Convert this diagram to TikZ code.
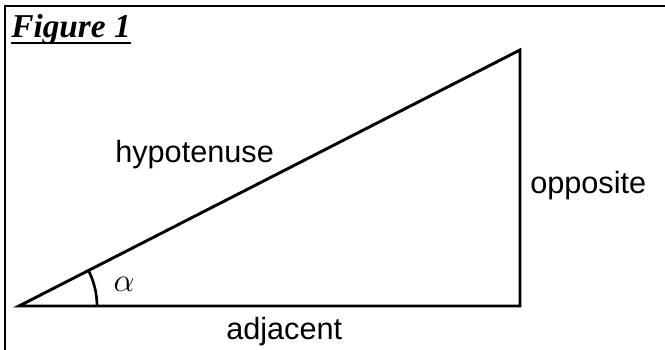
\documentclass[tikz,border=0pt]{standalone}
\usepackage{fontspec}
\setmainfont{Liberation Sans}
\newfontfamily\titlefont{Liberation Serif}
\usetikzlibrary{calc, positioning}
\tikzset{
  side label/.style={font=\fontsize{23}{27}\selectfont, inner sep=0pt, anchor=base west},
  edge line/.style={line width=2.2pt, line join=miter},
}

\begin{document}
\begin{tikzpicture}[x=0.75pt, y=0.75pt]
  \useasboundingbox (0,0) rectangle (665,350);
  % frame, cut off at the right and at the bottom
  \coordinate (frameBL) at (5,0);
  \coordinate (frameTL) at (5,344);
  \coordinate (frameTR) at (665,344);
  \draw[line width=2pt] (frameBL) -- (frameTL) -- (frameTR);
  \node[font=\titlefont\fontsize{25}{29}\selectfont\bfseries\itshape, inner sep=0pt, anchor=base west] (title) at (11,312) {Figure 1};
  \draw[line width=1.6pt] ($(title.base west)+(0,-5)$) -- ($(title.base east)+(0,-5)$);
  % triangle
  \coordinate (A) at (19,44);
  \coordinate (B) at (520,44);
  \coordinate (C) at (520,300);
  \draw[edge line] (A) -- (B) -- (C) -- cycle;
  \draw[line width=2pt] ($(A)+(78,0)$) arc[start angle=0, end angle=27.1, radius=78];
  \node[font=\fontsize{27}{30}\selectfont, inner sep=0pt] (alpha) at (124,66) {$\alpha$};
  \node[side label] (hyp) at (115,187) {hypotenuse};
  \node[side label] (opp) at (530,156) {opposite};
  \node[side label] (adj) at (226,10) {adjacent};
\end{tikzpicture}
\end{document}
